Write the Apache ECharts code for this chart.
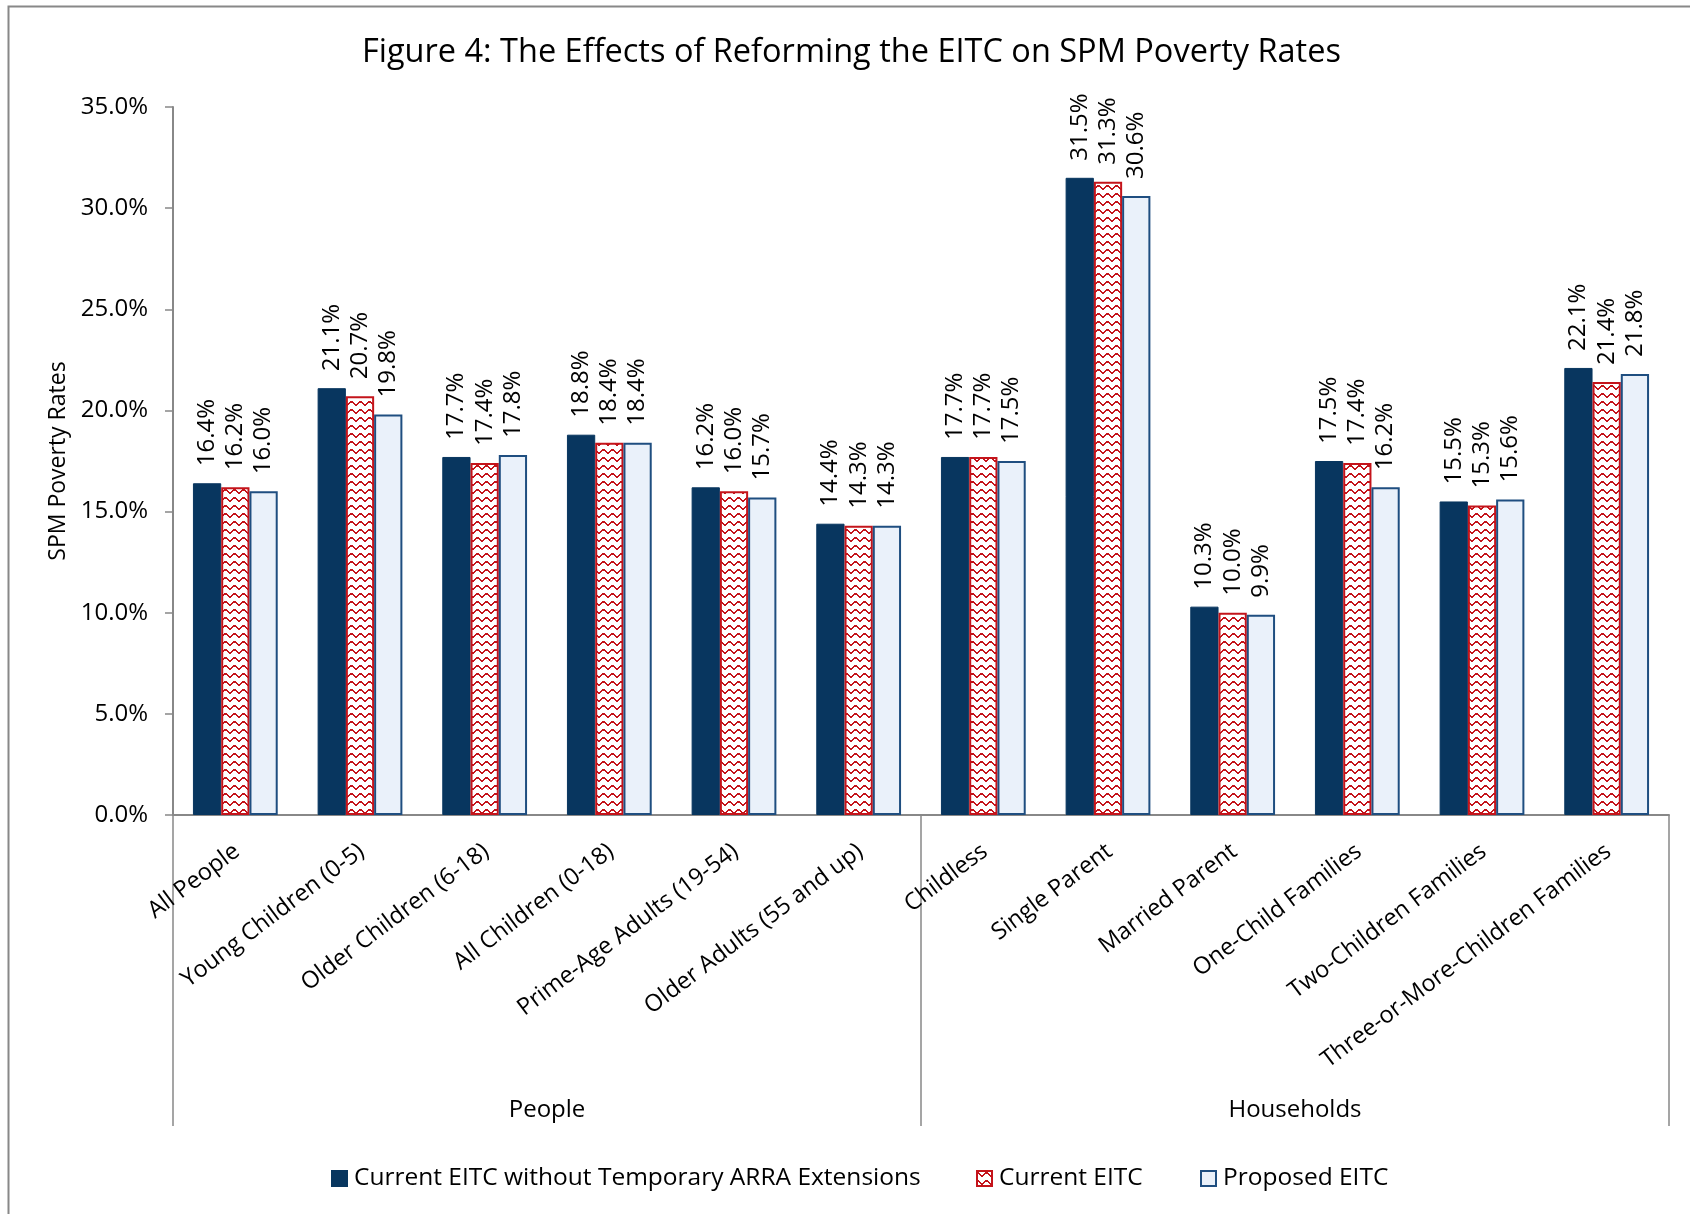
<!DOCTYPE html>
<html>
<head>
<meta charset="utf-8">
<script src="https://cdn.jsdelivr.net/npm/echarts@6/dist/echarts.min.js"></script>
<style>
  html, body { margin: 0; padding: 0; background: #fff; }
  #chart { width: 1690px; height: 1214px; }
</style>
</head>
<body>
<div id="chart"></div>
<script>
// Categories along the x axis, and the two groups they belong to
const categories = [
  'All People', 'Young Children (0-5)', 'Older Children (6-18)', 'All Children (0-18)',
  'Prime-Age Adults (19-54)', 'Older Adults (55 and up)',
  'Childless', 'Single Parent', 'Married Parent', 'One-Child Families',
  'Two-Children Families', 'Three-or-More-Children Families'
];
const groups = ['People', 'Households'];

// SPM poverty rates (%) for each scenario
const currentNoArra = [16.4, 21.1, 17.7, 18.8, 16.2, 14.4, 17.7, 31.5, 10.3, 17.5, 15.5, 22.1];
const currentEitc   = [16.2, 20.7, 17.4, 18.4, 16.0, 14.3, 17.7, 31.3, 10.0, 17.4, 15.3, 21.4];
const proposedEitc  = [16.0, 19.8, 17.8, 18.4, 15.7, 14.3, 17.5, 30.6,  9.9, 16.2, 15.6, 21.8];

const seriesNames = [
  'Current EITC without Temporary ARRA Extensions',
  'Current EITC',
  'Proposed EITC'
];

// Y axis range
const yMin = 0, yMax = 35, yStep = 5;

const FONT = 'Open Sans';
const NAVY = '#08365f';
const RED = '#c4141b';
const PALE = '#eaf1fa';
const PALE_EDGE = '#1f4e80';
const AXIS_GREY = '#888888';

// Red zig-zag fill on white
function zigzagPattern() {
  const c = document.createElement('canvas');
  c.width = 9; c.height = 8;
  const g = c.getContext('2d');
  g.fillStyle = '#ffffff';
  g.fillRect(0, 0, 9, 8);
  g.fillStyle = RED;
  const ys = [1, 1, 2, 3, 4, 4, 3, 2, 1];
  for (let x = 0; x < 9; x++) g.fillRect(x, ys[x], 1, 2);
  return c;
}
const patternFill = { image: zigzagPattern(), repeat: 'repeat' };

const chart = echarts.init(document.getElementById('chart'), null, { renderer: 'canvas' });

const dataLabel = {
  show: true,
  position: 'top',
  rotate: 90,
  align: 'left',
  verticalAlign: 'middle',
  distance: 17,
  fontFamily: FONT,
  fontSize: 24,
  color: '#000',
  formatter: p => p.value.toFixed(1) + '%'
};

function legendAt(left, name) {
  return {
    data: [name],
    left: left,
    top: 1161,
    itemWidth: 15,
    itemHeight: 15,
    itemGap: 0,
    icon: 'rect',
    textStyle: { fontFamily: FONT, fontSize: 24.5, color: '#000', padding: [0, 0, 0, 2] }
  };
}

chart.setOption({
  animation: false,
  backgroundColor: '#ffffff',
  title: {
    text: 'Figure 4: The Effects of Reforming the EITC on SPM Poverty Rates',
    left: 357,
    top: 31,
    textStyle: { fontFamily: FONT, fontSize: 32.5, fontWeight: 'normal', color: '#000' }
  },
  legend: [
    legendAt(326, seriesNames[0]),
    legendAt(971, seriesNames[1]),
    legendAt(1195, seriesNames[2])
  ],
  grid: { left: 173, right: 21, top: 107, bottom: 399, containLabel: false },
  xAxis: [
    {
      type: 'category',
      data: categories,
      axisLine: { show: true, lineStyle: { color: AXIS_GREY, width: 2 } },
      axisTick: { show: false },
      axisLabel: {
        interval: 0,
        rotate: 37,
        align: 'right',
        verticalAlign: 'top',
        margin: 20,
        padding: [0, 7, 0, 0],
        fontFamily: FONT,
        fontSize: 23.5,
        color: '#000'
      }
    },
    {
      type: 'category',
      data: groups,
      position: 'bottom',
      axisLine: { show: false },
      axisTick: { show: true, interval: 0, length: 311, lineStyle: { color: AXIS_GREY, width: 1.5 } },
      axisLabel: { interval: 0, margin: 283, fontFamily: FONT, fontSize: 24, color: '#000' }
    }
  ],
  yAxis: {
    type: 'value',
    min: yMin,
    max: yMax,
    interval: yStep,
    name: 'SPM Poverty Rates',
    nameLocation: 'middle',
    nameGap: 101,
    nameTextStyle: { fontFamily: FONT, fontSize: 23, color: '#000' },
    splitLine: { show: false },
    axisLine: { show: true, lineStyle: { color: AXIS_GREY, width: 2 } },
    axisTick: { show: true, length: 8, lineStyle: { color: AXIS_GREY, width: 1.5 } },
    axisLabel: {
      margin: 25,
      fontFamily: FONT,
      fontSize: 24,
      color: '#000',
      formatter: v => v.toFixed(1) + '%'
    }
  },
  series: [
    {
      name: seriesNames[0],
      type: 'bar',
      data: currentNoArra,
      barGap: '0%',
      barCategoryGap: '32%',
      itemStyle: { color: NAVY, borderColor: NAVY, borderWidth: 1 },
      label: dataLabel
    },
    {
      name: seriesNames[1],
      type: 'bar',
      data: currentEitc,
      barGap: '0%',
      barCategoryGap: '32%',
      itemStyle: { color: patternFill, borderColor: RED, borderWidth: 2 },
      label: dataLabel
    },
    {
      name: seriesNames[2],
      type: 'bar',
      data: proposedEitc,
      barGap: '0%',
      barCategoryGap: '32%',
      itemStyle: { color: PALE, borderColor: PALE_EDGE, borderWidth: 2 },
      label: dataLabel
    }
  ],
  graphic: [
    {
      type: 'rect',
      shape: { x: 8.5, y: 6.5, width: 1700, height: 1230 },
      style: { fill: 'none', stroke: AXIS_GREY, lineWidth: 2 },
      silent: true,
      z: -1
    }
  ]
});
</script>
</body>
</html>
